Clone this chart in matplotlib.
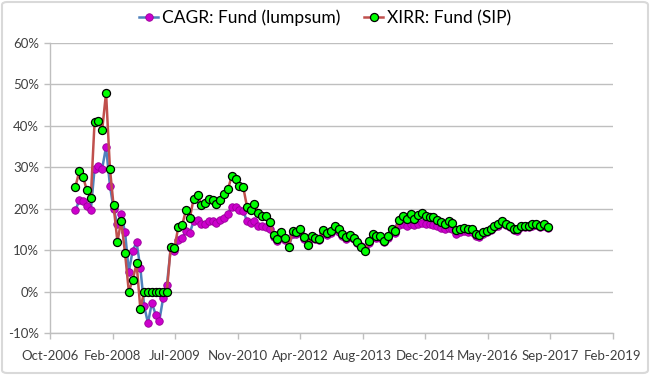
import matplotlib
matplotlib.use("Agg")
import matplotlib.pyplot as plt
import matplotlib.dates as mdates
from matplotlib.ticker import FuncFormatter, FixedLocator
from matplotlib.patches import FancyBboxPatch
import numpy as np
import pandas as pd

start_month = "2007-05-01"

cagr_lumpsum = [
    19.6, 22.0, 21.8, 20.6, 19.6, 29.6, 30.3, 29.7, 34.9, 25.6,
    20.0, 16.2, 18.7, 14.3, 4.8, 9.9, 11.9, 5.7, -3.5, -7.6,
    -2.7, -5.6, -7.2, -1.6, 1.5, 10.4, 9.7, 12.5, 13.0, 14.6,
    14.2, 17.0, 17.2, 16.2, 16.2, 17.1, 17.0, 16.6, 17.2, 17.8,
    18.8, 20.5, 20.3, 19.8, 19.5, 17.0, 16.6, 17.1, 15.9, 15.8,
    15.7, 15.0, 13.2, 12.3, 13.8, 12.5, 11.0, 13.8, 13.9, 14.3,
    12.8, 11.5, 12.9, 12.6, 12.4, 14.1, 13.7, 14.1, 15.0, 14.5,
    13.4, 12.8, 13.2, 12.7, 11.8, 10.9, 10.2, 11.8, 13.2, 13.0,
    13.0, 12.0, 13.0, 14.3, 14.2, 16.0, 16.3, 15.9, 16.4, 16.0,
    16.4, 16.6, 16.4, 16.2, 16.0, 15.8, 15.3, 15.2, 15.4, 15.0,
    14.0, 14.3, 14.6, 14.4, 14.3, 13.4, 13.2, 13.8, 14.3, 14.8,
    15.5, 15.8, 16.6, 16.0, 15.5, 14.8, 14.7, 15.6, 15.6, 15.6,
    15.9, 16.1, 15.5, 15.9, 15.3,
]

xirr_sip = [
    25.3, 29.0, 27.7, 24.4, 22.5, 40.9, 41.2, 39.0, 48.0, 29.7,
    20.8, 12.0, 17.1, 9.2, 0.0, 2.8, 6.8, -4.1, 0.0, 0.0,
    0.0, 0.0, 0.0, 0.0, 0.0, 10.8, 10.5, 15.7, 16.1, 19.7,
    17.8, 22.4, 23.4, 21.0, 21.4, 22.4, 22.2, 21.2, 22.0, 23.5,
    24.7, 27.8, 27.2, 25.6, 25.3, 20.4, 19.6, 21.1, 18.9, 18.2,
    18.3, 16.7, 13.7, 12.6, 14.5, 12.9, 10.8, 14.6, 14.5, 15.0,
    13.1, 11.2, 13.4, 13.0, 12.6, 14.8, 14.2, 14.7, 15.8, 15.1,
    13.8, 13.1, 13.6, 13.0, 11.9, 10.8, 9.9, 12.1, 13.8, 13.5,
    13.4, 12.1, 13.4, 15.1, 14.6, 17.2, 18.2, 17.4, 18.8, 17.5,
    18.6, 18.9, 18.2, 18.0, 17.9, 17.3, 16.7, 16.4, 17.0, 16.6,
    14.8, 15.1, 15.3, 15.1, 15.0, 13.9, 13.7, 14.3, 14.6, 15.1,
    15.8, 16.2, 17.0, 16.4, 15.9, 15.1, 15.0, 15.9, 15.9, 15.9,
    16.2, 16.4, 15.8, 16.2, 15.6,
]

series_labels = ["CAGR: Fund (lumpsum)", "XIRR: Fund (SIP)"]
x_tick_dates = ["2006-10-10", "2008-02-22", "2009-07-06", "2010-11-18", "2012-04-01",
                "2013-08-14", "2014-12-27", "2016-05-10", "2017-09-22", "2019-02-04"]
y_ticks = [-10, 0, 10, 20, 30, 40, 50, 60]

dates = pd.date_range(start_month, periods=len(xirr_sip), freq="MS")
tick_dates = pd.to_datetime(x_tick_dates)

plt.rcParams["font.family"] = ["Lato", "DejaVu Sans"]

fig = plt.figure(figsize=(6.5, 3.75), dpi=100)
ax = fig.add_axes([50 / 650, 1 - 333 / 375, 563 / 650, 290 / 375])

ax.plot(dates, np.array(cagr_lumpsum) / 100, color="#4F81BD", lw=1.8,
        marker="o", markersize=5.4, markerfacecolor="#CC00CC",
        markeredgecolor="#990099", markeredgewidth=0.6, zorder=3,
        label=series_labels[0])
ax.plot(dates, np.array(xirr_sip) / 100, color="#C0504D", lw=1.8,
        marker="o", markersize=5.8, markerfacecolor="#00FF00",
        markeredgecolor="#000000", markeredgewidth=0.9, zorder=4,
        label=series_labels[1])

ax.set_xlim(tick_dates[0], tick_dates[-1])
ax.set_ylim(-0.10, 0.60)
ax.xaxis.set_major_locator(FixedLocator(mdates.date2num(tick_dates)))
ax.xaxis.set_major_formatter(mdates.DateFormatter("%b-%Y"))
ax.yaxis.set_major_locator(FixedLocator([v / 100 for v in y_ticks]))
ax.yaxis.set_major_formatter(FuncFormatter(lambda v, p: f"{v * 100:.0f}%"))

ax.grid(axis="y", color="#BFBFBF", lw=1.0)
ax.set_axisbelow(True)
for s in ["top", "right"]:
    ax.spines[s].set_visible(False)
for s in ["left", "bottom"]:
    ax.spines[s].set_color("#BFBFBF")
    ax.spines[s].set_linewidth(1.0)
ax.tick_params(axis="both", colors="#BFBFBF", length=4, width=1.0,
               labelcolor="#404040", labelsize=9.5)
ax.tick_params(axis="x", pad=8)
ax.tick_params(axis="y", pad=4)

fig.legend(loc="center", bbox_to_anchor=(0.5, 1 - 18 / 375), ncol=2,
           frameon=False, fontsize=12.5, handlelength=1.1, columnspacing=1.4,
           handletextpad=0.2, prop={"family": ["Lato", "DejaVu Sans"], "size": 12.5})

border = FancyBboxPatch((2 / 650, 2 / 375), 646 / 650, 371 / 375,
                        boxstyle="round,pad=0,rounding_size=0.008",
                        transform=fig.transFigure, fill=False,
                        edgecolor="#D9D9D9", lw=1.5)
fig.patches.append(border)

fig.savefig("out.png", dpi=100)
